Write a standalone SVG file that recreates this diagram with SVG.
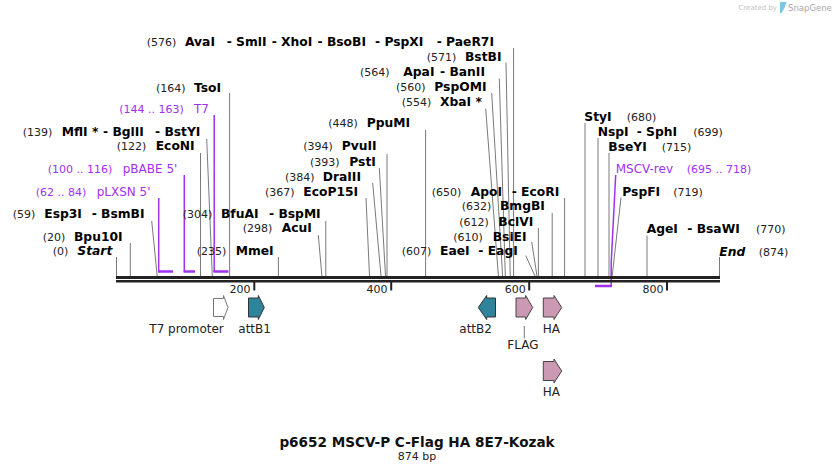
<svg xmlns="http://www.w3.org/2000/svg" width="836" height="473" viewBox="0 0 836 473">
<style>
text{font-family:"DejaVu Sans","Liberation Sans",sans-serif;}
.nm{font-size:12.3px;font-weight:bold;fill:#000;}
.it{font-style:italic;}
.num{font-size:11px;font-weight:normal;fill:#222;}
.pr{font-size:12px;fill:#a031f0;}
.prn{font-size:11px;fill:#a031f0;}
.lead{stroke:#7a7a7a;stroke-width:1;fill:none;}
.plead{stroke:#a031f0;stroke-width:1.5;fill:none;}
.pbar{stroke:#a031f0;stroke-width:2.5;fill:none;}
.bb{fill:#222;}
.tick{fill:#222;}
.tl{font-size:11px;fill:#222;text-anchor:end;}
.ft{font-size:12px;fill:#222;}
.teal{fill:#2e849a;stroke:#333;stroke-width:1;}
.pink{fill:#cc99b4;stroke:#444;stroke-width:1;}
.white{fill:#fff;stroke:#777;stroke-width:1;}
</style>
<rect width="836" height="473" fill="#fff"/>

<!-- logo -->
<g id="logo">
<text x="738.5" y="10" style="font-size:7px;fill:#c4c4c4">Created by</text>
<path d="M780,2 L786.5,2 L784.5,8 L781.5,13 L780,13 Z" fill="#7cc3e8"/>
<text x="788" y="10.5" style="font-size:8.5px;fill:#a8a8a8">SnapGene</text>
</g>

<!-- connectors: leader lines -->
<g id="connectors">
<line class="lead" x1="116.5" y1="257" x2="116.5" y2="276"/>
<line class="lead" x1="130.3" y1="243" x2="130.3" y2="276"/>
<line class="lead" x1="151.7" y1="221" x2="157.2" y2="276"/>
<line class="lead" x1="200.5" y1="153" x2="200.5" y2="276"/>
<line class="lead" x1="206.7" y1="139" x2="212.3" y2="276"/>
<line class="lead" x1="229.6" y1="93" x2="229.6" y2="276"/>
<line class="lead" x1="278.4" y1="257" x2="278.4" y2="276"/>
<line class="lead" x1="318.3" y1="235" x2="321.9" y2="276"/>
<line class="lead" x1="325.8" y1="221" x2="325.8" y2="276"/>
<line class="lead" x1="366" y1="198" x2="369.5" y2="276"/>
<line class="lead" x1="372.7" y1="183" x2="381" y2="276"/>
<line class="lead" x1="379.3" y1="168" x2="385.5" y2="276"/>
<line class="lead" x1="387" y1="154" x2="387" y2="276"/>
<line class="lead" x1="425.6" y1="130" x2="425.6" y2="276"/>
<line class="lead" x1="485.7" y1="108.5" x2="498.4" y2="276"/>
<line class="lead" x1="491.7" y1="93" x2="502.6" y2="276"/>
<line class="lead" x1="499.3" y1="78.5" x2="505.3" y2="276"/>
<line class="lead" x1="506" y1="62.5" x2="510.2" y2="276"/>
<line class="lead" x1="513.6" y1="48" x2="513.6" y2="276"/>
<line class="lead" x1="525.7" y1="255.5" x2="535" y2="276"/>
<line class="lead" x1="531.7" y1="242" x2="537" y2="276"/>
<line class="lead" x1="538.4" y1="228" x2="538.4" y2="276"/>
<line class="lead" x1="552.2" y1="213" x2="552.2" y2="276"/>
<line class="lead" x1="564.6" y1="198" x2="564.6" y2="276"/>
<line class="lead" x1="585" y1="123" x2="585" y2="276"/>
<line class="lead" x1="598" y1="138" x2="598" y2="276"/>
<line class="lead" x1="609" y1="153" x2="609" y2="276"/>
<line class="lead" x1="621" y1="197.5" x2="612.2" y2="276"/>
<line class="lead" x1="647" y1="235.5" x2="647" y2="276"/>
<line class="lead" x1="719.5" y1="257" x2="719.5" y2="276"/>
<!-- primer leaders -->
<path class="plead" d="M158.7,198 V272"/>
<path class="pbar" d="M158,271.5 H173"/>
<path class="plead" d="M184.3,175 V272"/>
<path class="pbar" d="M183.6,271.5 H195"/>
<path class="plead" d="M214.2,115 V272"/>
<path class="pbar" d="M213.5,271.5 H228.5"/>
<path class="plead" d="M615.7,175 L611.2,263 V286"/>
<path class="pbar" d="M595,286 H611.9"/>
<line class="lead" x1="524.3" y1="326" x2="524.3" y2="338.5"/>
</g>

<!-- backbone -->
<g id="backbone">
<rect class="bb" x="116" y="276" width="604" height="3"/>
<rect class="bb" x="116" y="280" width="604" height="2.5"/>
<rect class="tick" x="253.3" y="282" width="2" height="8.5"/>
<rect class="tick" x="390.2" y="282" width="2" height="8.5"/>
<rect class="tick" x="528.2" y="282" width="2" height="8.5"/>
<rect class="tick" x="666" y="282" width="2" height="8.5"/>
<text class="tl" x="250.5" y="292.5">200</text>
<text class="tl" x="387.5" y="292.5">400</text>
<text class="tl" x="525.8" y="292.5">600</text>
<text class="tl" x="663.5" y="292.5">800</text>
</g>

<!-- left-side sites -->
<g id="site-start"><text y="255"><tspan class="num" x="52.7">(0)</tspan><tspan class="nm it" x="77.3">Start</tspan></text></g>
<g id="site-bpu10i"><text y="241"><tspan class="num" x="42.7">(20)</tspan><tspan class="nm" x="74">Bpu10I</tspan></text></g>
<g id="site-esp3i"><text y="217.5"><tspan class="num" x="12.7">(59)</tspan><tspan class="nm" x="44.3">Esp3I</tspan><tspan class="nm" x="91.7">- BsmBI</tspan></text></g>
<g id="primer-plxsn"><text y="196"><tspan class="prn" x="35.7">(62 .. 84)</tspan><tspan class="pr" x="96.7">pLXSN 5'</tspan></text></g>
<g id="primer-pbabe"><text y="173.3"><tspan class="prn" x="47.7">(100 .. 116)</tspan><tspan class="pr" x="122.7">pBABE 5'</tspan></text></g>
<g id="site-econi"><text y="150"><tspan class="num" x="116.7">(122)</tspan><tspan class="nm" x="155.7">EcoNI</tspan></text></g>
<g id="site-mfli"><text y="136"><tspan class="num" x="22.7">(139)</tspan><tspan class="nm" x="61.7">MflI *</tspan><tspan class="nm" x="103">- BglII</tspan><tspan class="nm" x="155">- BstYI</tspan></text></g>
<g id="primer-t7"><text y="113"><tspan class="prn" x="119.3">(144 .. 163)</tspan><tspan class="pr" x="194">T7</tspan></text></g>
<g id="site-tsoi"><text y="91.5"><tspan class="num" x="156">(164)</tspan><tspan class="nm" x="194">TsoI</tspan></text></g>
<g id="site-mmei"><text y="255"><tspan class="num" x="196.7">(235)</tspan><tspan class="nm" x="235.7">MmeI</tspan></text></g>
<g id="site-acui"><text y="232"><tspan class="num" x="242.7">(298)</tspan><tspan class="nm" x="281.7">AcuI</tspan></text></g>
<g id="site-bfuai"><text y="217.5"><tspan class="num" x="182.7">(304)</tspan><tspan class="nm" x="221">BfuAI</tspan><tspan class="nm" x="269">- BspMI</tspan></text></g>
<g id="site-ecop15i"><text y="195.7"><tspan class="num" x="265">(367)</tspan><tspan class="nm" x="303.3">EcoP15I</tspan></text></g>
<g id="site-draiii"><text y="180.5"><tspan class="num" x="285">(384)</tspan><tspan class="nm" x="322.7">DraIII</tspan></text></g>
<g id="site-psti"><text y="165.5"><tspan class="num" x="310">(393)</tspan><tspan class="nm" x="349.3">PstI</tspan></text></g>
<g id="site-pvuii"><text y="150"><tspan class="num" x="303.3">(394)</tspan><tspan class="nm" x="341.7">PvuII</tspan></text></g>
<g id="site-ppumi"><text y="126.7"><tspan class="num" x="328.3">(448)</tspan><tspan class="nm" x="366.7">PpuMI</tspan></text></g>
<g id="site-xbai"><text y="106"><tspan class="num" x="401.7">(554)</tspan><tspan class="nm" x="440">XbaI *</tspan></text></g>
<g id="site-pspomi"><text y="91"><tspan class="num" x="396">(560)</tspan><tspan class="nm" x="434.3">PspOMI</tspan></text></g>
<g id="site-apai"><text y="76"><tspan class="num" x="360">(564)</tspan><tspan class="nm" x="403.3">ApaI</tspan><tspan class="nm" x="440">- BanII</tspan></text></g>
<g id="site-bstbi"><text y="60.7"><tspan class="num" x="426.7">(571)</tspan><tspan class="nm" x="465">BstBI</tspan></text></g>
<g id="site-avai"><text y="45.7"><tspan class="num" x="146.7">(576)</tspan><tspan class="nm" x="185">AvaI</tspan><tspan class="nm" x="226.7">- SmlI</tspan><tspan class="nm" x="271.7">- XhoI</tspan><tspan class="nm" x="317.5">- BsoBI</tspan><tspan class="nm" x="375">- PspXI</tspan><tspan class="nm" x="436.7">- PaeR7I</tspan></text></g>

<!-- right cluster -->
<g id="site-eaei"><text y="255"><tspan class="num" x="401.7">(607)</tspan><tspan class="nm" x="440">EaeI</tspan><tspan class="nm" x="478.3">- EagI</tspan></text></g>
<g id="site-bsiei"><text y="240.7"><tspan class="num" x="453.3">(610)</tspan><tspan class="nm" x="492.7">BsiEI</tspan></text></g>
<g id="site-bclvi"><text y="226"><tspan class="num" x="459.3">(612)</tspan><tspan class="nm" x="498.3">BclVI</tspan></text></g>
<g id="site-bmgbi"><text y="210"><tspan class="num" x="461.7">(632)</tspan><tspan class="nm" x="500">BmgBI</tspan></text></g>
<g id="site-apoi"><text y="195.7"><tspan class="num" x="431.7">(650)</tspan><tspan class="nm" x="470.7">ApoI</tspan><tspan class="nm" x="511.7">- EcoRI</tspan></text></g>
<g id="site-styi"><text y="120.7"><tspan class="nm" x="584.3">StyI</tspan><tspan class="num" x="626.7">(680)</tspan></text></g>
<g id="site-nspi"><text y="136"><tspan class="nm" x="597.7">NspI</tspan><tspan class="nm" x="636.7">- SphI</tspan><tspan class="num" x="693.3">(699)</tspan></text></g>
<g id="site-bseyi"><text y="151"><tspan class="nm" x="608.3">BseYI</tspan><tspan class="num" x="661.7">(715)</tspan></text></g>
<g id="primer-mscv-rev"><text y="172.7"><tspan class="pr" x="615.7">MSCV-rev</tspan><tspan class="prn" x="686.7">(695 .. 718)</tspan></text></g>
<g id="site-pspfi"><text y="196"><tspan class="nm" x="622.3">PspFI</tspan><tspan class="num" x="673.3">(719)</tspan></text></g>
<g id="site-agei"><text y="232.7"><tspan class="nm" x="646.7">AgeI</tspan><tspan class="nm" x="687.3">- BsaWI</tspan><tspan class="num" x="756">(770)</tspan></text></g>
<g id="site-end"><text y="255.7"><tspan class="nm it" x="719.3">End</tspan><tspan class="num" x="758.7">(874)</tspan></text></g>

<!-- features -->
<g id="feat-t7promoter">
<path class="white" d="M213.5,298.5 H223.5 V295.5 L228,307.5 L223.5,319.5 V316.5 H213.5 Z"/>
<text class="ft" x="149.3" y="333.3">T7 promoter</text>
</g>
<g id="feat-attb1">
<path class="teal" d="M248.5,298 H258.3 V295.5 L264.3,307.5 L258.3,319.5 V317 H248.5 Z"/>
<text class="ft" x="238.3" y="333.3">attB1</text>
</g>
<g id="feat-attb2">
<path class="teal" d="M495.5,298 H486.7 V295.5 L478.3,307.5 L486.7,319.5 V317 H495.5 Z"/>
<text class="ft" x="459.3" y="332.7">attB2</text>
</g>
<g id="feat-flag">
<path class="pink" d="M516,298 H525.7 V295.5 L532.7,307.5 L525.7,319.5 V317 H516 Z"/>
<text class="ft" x="507.3" y="349">FLAG</text>
</g>
<g id="feat-ha1">
<path class="pink" d="M543.3,298 H554 V295.5 L561.7,307.5 L554,319.5 V317 H543.3 Z"/>
<text class="ft" x="542.7" y="332.7">HA</text>
</g>
<g id="feat-ha2">
<path class="pink" d="M543.3,361.5 H554 V359 L561.7,371 L554,383 V380.5 H543.3 Z"/>
<text class="ft" x="542.7" y="396">HA</text>
</g>

<!-- title -->
<g id="title">
<text x="417" y="446.5" text-anchor="middle" style="font-size:13.6px;font-weight:bold;fill:#111">p6652 MSCV-P C-Flag HA 8E7-Kozak</text>
<text x="417" y="460" text-anchor="middle" style="font-size:11px;fill:#222">874 bp</text>
</g>
</svg>
